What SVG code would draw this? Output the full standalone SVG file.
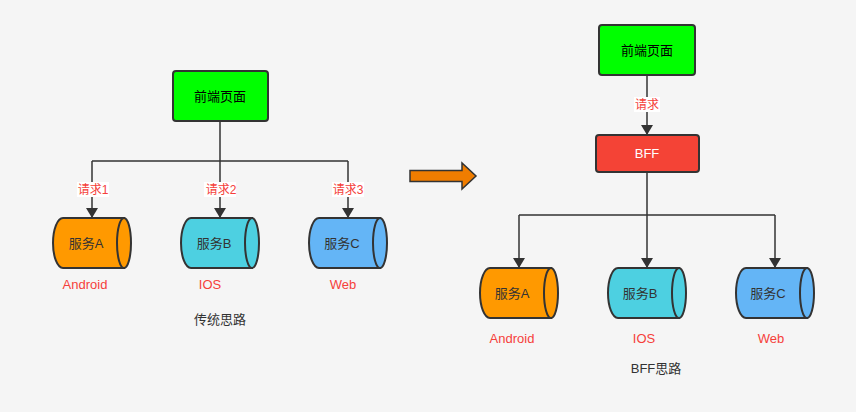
<svg xmlns="http://www.w3.org/2000/svg" width="856" height="412" viewBox="0 0 856 412">
<style>
text{font-family:"Liberation Sans","Noto Sans CJK SC",sans-serif;font-size:13px;text-anchor:middle}
.box{stroke:#333;stroke-width:2}
.cyl{stroke:#333;stroke-width:2}
.red{fill:#f5403a}
.lbl{fill:#f5403a;font-size:12px}
.ln{stroke:#333;stroke-width:1.5;fill:none}
.dk{fill:#333}
</style>
<defs>
<marker id="ar" markerWidth="10" markerHeight="10" refX="5" refY="9" orient="auto" markerUnits="userSpaceOnUse" viewBox="0 0 10 10">
<path d="M0,0 L10,0 L5,10 z" fill="#333" transform="rotate(-90 5 5)"/>
</marker>
<marker id="ah" markerWidth="10" markerHeight="12" refX="9" refY="6" orient="auto" markerUnits="userSpaceOnUse">
<path d="M0,0 L10,6 L0,12 z" fill="#333"/>
</marker>
</defs>
<rect width="856" height="412" fill="#f5f5f5"/>
<g id="connectors">
<path class="ln" d="M220,121 V161 M92,161 H348"/>
<path class="ln" d="M92,161 V217" marker-end="url(#ah)"/>
<path class="ln" d="M220,161 V217" marker-end="url(#ah)"/>
<path class="ln" d="M348,161 V217" marker-end="url(#ah)"/>
<rect x="77" y="182" width="32" height="15" fill="#fff"/>
<text class="lbl" x="93" y="194">请求1</text>
<rect x="204" y="182" width="32" height="15" fill="#fff"/>
<text class="lbl" x="221" y="194">请求2</text>
<rect x="332" y="182" width="32" height="15" fill="#fff"/>
<text class="lbl" x="348" y="194">请求3</text>
<path class="ln" d="M647,75 V134" marker-end="url(#ah)"/>
<rect x="634" y="97" width="26" height="15" fill="#fff"/>
<text class="lbl" x="647" y="109">请求</text>
<path class="ln" d="M647,172 V215 M519,215 H775"/>
<path class="ln" d="M519,215 V267" marker-end="url(#ah)"/>
<path class="ln" d="M647,215 V267" marker-end="url(#ah)"/>
<path class="ln" d="M775,215 V267" marker-end="url(#ah)"/>
</g>
<g id="bigarrow">
<path d="M410,170.5 H462 V163 L476,176 L462,189 V181.5 H410 z" fill="#f07d00" stroke="#333" stroke-width="1.5"/>
</g>
<g id="front1">
<rect class="box" x="173" y="71" width="95" height="50" rx="3" fill="#00ff00"/>
<text x="220" y="101">前端页面</text>
</g>
<g id="svcA1">
<path class="cyl" d="M124,218 H63 A10,25 0 0 0 63,268 H124 z" fill="#ff9900"/>
<ellipse class="cyl" cx="124" cy="243" rx="7" ry="25" fill="#ff9900"/>
<text x="86" y="248" fill="#333">服务A</text>
<text x="85" y="289" class="red">Android</text>
</g>
<g id="svcB1">
<path class="cyl" d="M252,218 H191 A10,25 0 0 0 191,268 H252 z" fill="#4dd0e1"/>
<ellipse class="cyl" cx="252" cy="243" rx="7" ry="25" fill="#4dd0e1"/>
<text x="214" y="248" fill="#333">服务B</text>
<text x="210" y="289" class="red">IOS</text>
</g>
<g id="svcC1">
<path class="cyl" d="M380,218 H319 A10,25 0 0 0 319,268 H380 z" fill="#64b5f6"/>
<ellipse class="cyl" cx="380" cy="243" rx="7" ry="25" fill="#64b5f6"/>
<text x="342" y="248" fill="#333">服务C</text>
<text x="343" y="289" class="red">Web</text>
</g>
<text x="220" y="324" fill="#333">传统思路</text>
<g id="front2">
<rect class="box" x="599" y="25" width="96" height="50" rx="3" fill="#00ff00"/>
<text x="647" y="55">前端页面</text>
</g>
<g id="bff">
<rect class="box" x="596" y="135" width="103" height="37" rx="3" fill="#f44336"/>
<text x="647" y="158" fill="#fff">BFF</text>
</g>
<g id="svcA2">
<path class="cyl" d="M551,268 H490 A10,25 0 0 0 490,318 H551 z" fill="#ff9900"/>
<ellipse class="cyl" cx="551" cy="293" rx="7" ry="25" fill="#ff9900"/>
<text x="512" y="298" fill="#333">服务A</text>
<text x="512" y="343" class="red">Android</text>
</g>
<g id="svcB2">
<path class="cyl" d="M679,268 H618 A10,25 0 0 0 618,318 H679 z" fill="#4dd0e1"/>
<ellipse class="cyl" cx="679" cy="293" rx="7" ry="25" fill="#4dd0e1"/>
<text x="640" y="298" fill="#333">服务B</text>
<text x="644" y="343" class="red">IOS</text>
</g>
<g id="svcC2">
<path class="cyl" d="M807,268 H746 A10,25 0 0 0 746,318 H807 z" fill="#64b5f6"/>
<ellipse class="cyl" cx="807" cy="293" rx="7" ry="25" fill="#64b5f6"/>
<text x="768" y="298" fill="#333">服务C</text>
<text x="771" y="343" class="red">Web</text>
</g>
<text x="656" y="373" fill="#333">BFF思路</text>
</svg>
